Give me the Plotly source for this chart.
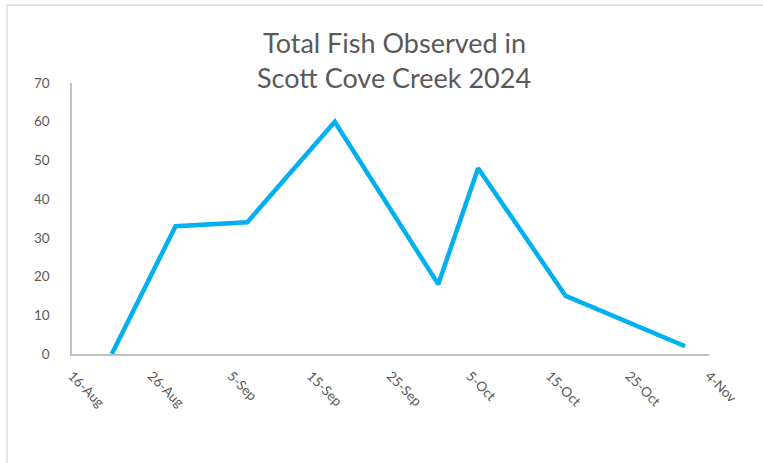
import plotly.graph_objects as go

dates = ["2024-08-21", "2024-08-29", "2024-09-07", "2024-09-18",
         "2024-10-01", "2024-10-06", "2024-10-17", "2024-11-01"]
fish = [0, 33, 34, 60, 18, 48, 15, 2]

tick_dates = ["2024-08-16", "2024-08-26", "2024-09-05", "2024-09-15", "2024-09-25",
              "2024-10-05", "2024-10-15", "2024-10-25", "2024-11-04"]
tick_labels = ["16-Aug", "26-Aug", "5-Sep", "15-Sep", "25-Sep",
               "5-Oct", "15-Oct", "25-Oct", "4-Nov"]
y_ticks = [0, 10, 20, 30, 40, 50, 60, 70]
title_lines = ["Total Fish Observed in", "Scott Cove Creek 2024"]

FONT = "Lato, 'Open Sans', sans-serif"
GRAY = "#595959"

fig = go.Figure()
fig.add_trace(go.Scatter(x=dates, y=fish, mode="lines",
                         line=dict(color="#00B0F0", width=4.5),
                         hoverinfo="x+y"))

PW, PH, L, T = 637, 271, 72, 83
annotations = []
for txt, py in zip(title_lines, [42, 77]):
    annotations.append(dict(text=txt, xref="paper", yref="paper",
                            x=(394 - L) / PW, y=(T + PH - py) / PH,
                            xanchor="center", yanchor="middle", showarrow=False,
                            font=dict(family=FONT, size=27, color=GRAY)))

fig.update_layout(
    width=763, height=463,
    margin=dict(l=L, r=763 - L - PW, t=T, b=463 - T - PH),
    paper_bgcolor="white", plot_bgcolor="white",
    showlegend=False,
    annotations=annotations,
    font=dict(family=FONT, color=GRAY),
    xaxis=dict(type="date", range=["2024-08-16", "2024-11-04"],
               tickmode="array", tickvals=tick_dates, ticktext=tick_labels,
               tickangle=45, showgrid=False, zeroline=False,
               showline=True, linecolor="#BFBFBF", linewidth=1.5,
               ticks="", ticklabelstandoff=7,
               tickfont=dict(size=13.5, color=GRAY, family=FONT)),
    yaxis=dict(range=[0, 70], tickmode="array", tickvals=y_ticks,
               showgrid=False, zeroline=False,
               showline=True, linecolor="#BFBFBF", linewidth=1.5,
               ticks="", ticklabelstandoff=18,
               tickfont=dict(size=13.5, color=GRAY, family=FONT)),
    shapes=[
        dict(type="line", xref="paper", yref="paper",
             x0=(7 - L) / PW, x1=(763 - L) / PW,
             y0=(T + PH - 5) / PH, y1=(T + PH - 5) / PH,
             line=dict(color="#D9D9D9", width=1.5)),
        dict(type="line", xref="paper", yref="paper",
             x0=(7 - L) / PW, x1=(7 - L) / PW,
             y0=(T + PH - 5) / PH, y1=(T + PH - 470) / PH,
             line=dict(color="#D9D9D9", width=1.5)),
    ],
)

fig.write_html("out.html")
